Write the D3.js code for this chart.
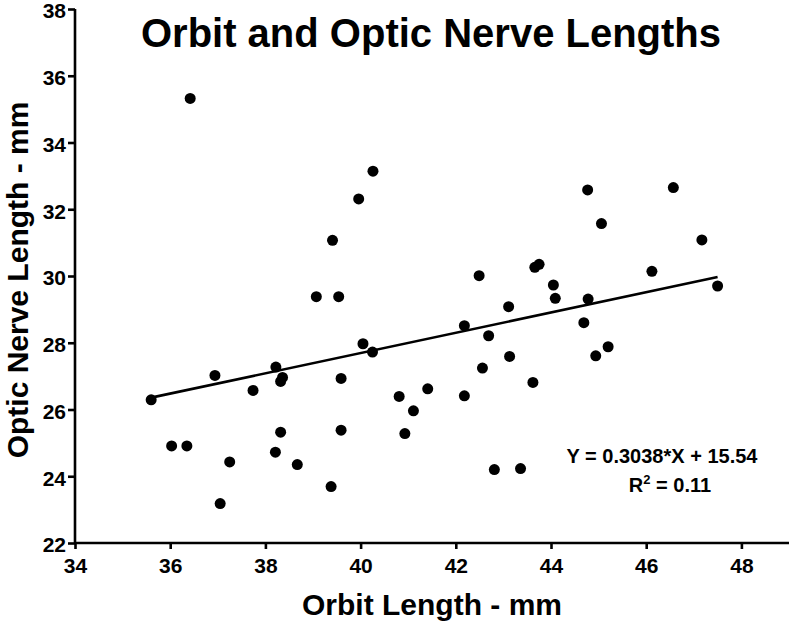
<!DOCTYPE html>
<html>
<head>
<meta charset="utf-8">
<script src="https://cdn.jsdelivr.net/npm/d3@7"></script>
<style>
  body { margin: 0; background: #fff; }
  svg text { font-family: "Liberation Sans", Arial, Helvetica, sans-serif; font-weight: bold; fill: #000; }
</style>
</head>
<body>
<div id="chart"></div>
<script>
// data
const orbitLength = [35.60, 36.42, 36.03, 36.35, 36.94, 37.74, 38.22, 38.36, 38.32, 38.32,
  38.21, 38.67, 37.25, 37.05, 40.26, 39.96, 39.41, 39.07, 39.54, 42.49,
  42.18, 42.69, 40.05, 40.25, 39.59, 39.59, 39.38, 44.05, 44.09, 44.78,
  43.11, 44.69, 43.13, 42.56, 44.94, 43.62, 41.41, 42.18, 40.81, 41.11,
  40.93, 42.81, 43.36, 44.77, 46.57, 45.06, 47.17, 46.12, 47.50, 45.20,
  43.66, 43.75];
const nerveLength = [26.29, 35.32, 24.91, 24.91, 27.02, 26.57, 27.27, 26.96, 26.84, 25.32,
  24.72, 24.35, 24.43, 23.18, 33.14, 32.31, 31.07, 29.38, 29.38, 30.01,
  28.51, 28.21, 27.97, 27.72, 26.93, 25.38, 23.69, 29.73, 29.33, 29.31,
  29.08, 28.60, 27.59, 27.24, 27.61, 26.81, 26.62, 26.41, 26.39, 25.96,
  25.28, 24.20, 24.23, 32.58, 32.65, 31.57, 31.08, 30.14, 29.70, 27.88,
  30.26, 30.35];
const xTicks = [34, 36, 38, 40, 42, 44, 46, 48];
const yTicks = [22, 24, 26, 28, 30, 32, 34, 36, 38];
const slope = 0.3038;
const intercept = 15.54;
const rSquared = "0.11";

const width = 789;
const height = 621;
const margin = {top: 9, right: 0, bottom: 78, left: 75};

const points = orbitLength.map((x, i) => ({x: x, y: nerveLength[i]}));

const xScale = d3.scaleLinear()
    .domain([34, 49])
    .range([margin.left, width - margin.right]);

const yScale = d3.scaleLinear()
    .domain([22, 38])
    .range([height - margin.bottom, margin.top]);

const svg = d3.select('#chart')
    .append('svg')
    .attr('width', width)
    .attr('height', height);

const xAxis = d3.axisBottom(xScale)
    .tickValues(xTicks)
    .tickSize(6)
    .tickPadding(9)
    .tickFormat(d => d);

const yAxis = d3.axisLeft(yScale)
    .tickValues(yTicks)
    .tickSize(7)
    .tickPadding(2)
    .tickFormat(d => d);

const gx = svg.append('g')
    .attr('transform', `translate(0, ${height - margin.bottom})`)
    .call(xAxis);

const gy = svg.append('g')
    .attr('transform', `translate(${margin.left}, 0)`)
    .call(yAxis);

[gx, gy].forEach(g => {
    g.select('.domain').attr('stroke', '#000').attr('stroke-width', 2.6);
    g.selectAll('.tick line').attr('stroke', '#000').attr('stroke-width', 2.6);
    g.selectAll('.tick text').style('font-size', '21px');
});
gy.select('.domain').attr('d', `M0,${yScale(22)}V${yScale(38)}`);
gx.select('.domain').attr('d', `M${xScale(34)},0H${width}`);
gy.selectAll('.tick text').attr('dy', '0.42em');

// regression line over the range of the data
const xExt = d3.extent(orbitLength);
svg.append('line')
    .attr('x1', xScale(xExt[0]))
    .attr('y1', yScale(slope * xExt[0] + intercept))
    .attr('x2', xScale(xExt[1]))
    .attr('y2', yScale(slope * xExt[1] + intercept))
    .attr('stroke', '#000')
    .attr('stroke-width', 2.6);

svg.append('g')
    .selectAll('circle')
    .data(points)
    .join('circle')
    .attr('cx', d => xScale(d.x))
    .attr('cy', d => yScale(d.y))
    .attr('r', 5.5)
    .attr('fill', '#000');

// titles
svg.append('text')
    .attr('x', 431)
    .attr('y', 47)
    .attr('text-anchor', 'middle')
    .style('font-size', '40px')
    .text('Orbit and Optic Nerve Lengths');

svg.append('text')
    .attr('x', 432)
    .attr('y', 615)
    .attr('text-anchor', 'middle')
    .style('font-size', '30px')
    .text('Orbit Length - mm');

svg.append('text')
    .attr('transform', 'translate(28, 280) rotate(-90)')
    .attr('text-anchor', 'middle')
    .style('font-size', '30px')
    .text('Optic Nerve Length - mm');

// fit equation
svg.append('text')
    .attr('x', 662)
    .attr('y', 463)
    .attr('text-anchor', 'middle')
    .style('font-size', '20px')
    .text(`Y = ${slope}*X + ${intercept}`);

const r2 = svg.append('text')
    .attr('x', 670)
    .attr('y', 492)
    .attr('text-anchor', 'middle')
    .style('font-size', '20px');
r2.append('tspan').text('R');
r2.append('tspan').attr('dy', -8).style('font-size', '13px').text('2');
r2.append('tspan').attr('dy', 8).text(` = ${rSquared}`);
</script>
</body>
</html>
